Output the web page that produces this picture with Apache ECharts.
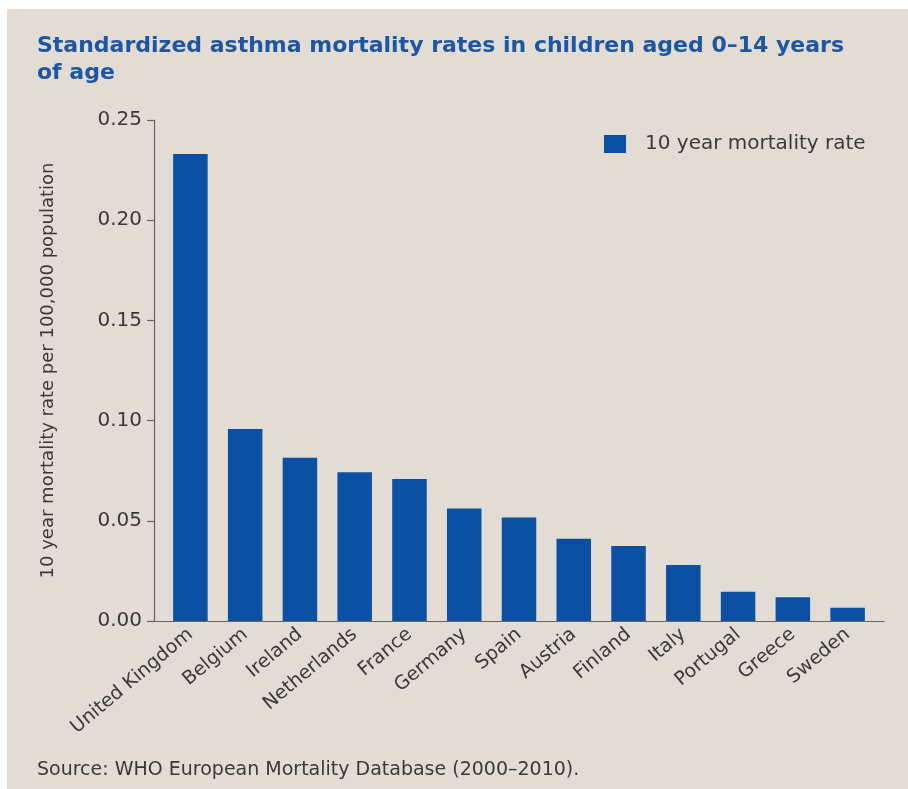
<!DOCTYPE html>
<html>
<head>
<meta charset="utf-8">
<script src="https://cdn.jsdelivr.net/npm/echarts@6/dist/echarts.min.js"></script>
<style>
  html, body { margin: 0; padding: 0; background: #fff; }
  #panel { position: absolute; left: 7px; top: 9px; width: 901px; height: 780px; background: #e2dcd4; }
  #chart { position: absolute; left: 0; top: 0; width: 908px; height: 789px; }
</style>
</head>
<body>
<div id="panel"></div>
<div id="chart"></div>
<script>
// 国家
const countries = ['United Kingdom', 'Belgium', 'Ireland', 'Netherlands', 'France', 'Germany',
  'Spain', 'Austria', 'Finland', 'Italy', 'Portugal', 'Greece', 'Sweden'];
// 10 year mortality rate per 100,000
const rates = [0.233, 0.0958, 0.0815, 0.0742, 0.0709, 0.0562, 0.0516, 0.0411, 0.0374, 0.0279, 0.0146, 0.0118, 0.0066];
const yTickLabels = ['0.00', '0.05', '0.10', '0.15', '0.20', '0.25'];

const FONT = 'DejaVu Sans';
const TEXT = '#3a3a3a';
const AXIS = '#6b6560';
const BAR = '#0b50a2';

const chart = echarts.init(document.getElementById('chart'));

const option = {
  backgroundColor: 'transparent',
  animation: false,
  textStyle: { fontFamily: FONT },
  title: {
    text: 'Standardized asthma mortality rates in children aged 0\u201314 years\nof age',
    left: 32,
    top: 28,
    textStyle: {
      fontFamily: FONT,
      fontSize: 22,
      fontWeight: 'bold',
      color: '#1d57a3',
      lineHeight: 27,
    },
  },
  legend: {
    data: ['10 year mortality rate'],
    left: 599,
    top: 129,
    itemWidth: 22,
    itemHeight: 18,
    icon: 'rect',
    textStyle: {
      fontFamily: FONT,
      fontSize: 20,
      color: TEXT,
      padding: [0, 0, 0, 14],
    },
  },
  grid: [
    { left: 163, right: 33, top: 120, bottom: 168 },
    // only for the longer x axis line
    { left: 154, right: 24, top: 120, bottom: 168 },
  ],
  xAxis: [{
    type: 'category',
    gridIndex: 0,
    data: countries,
    axisLine: { show: false },
    axisTick: { show: false },
    axisLabel: {
      rotate: 40,
      margin: 11,
      fontFamily: FONT,
      fontSize: 19,
      color: TEXT,
    },
  }, {
    type: 'value',
    gridIndex: 1,
    min: 0,
    max: 1,
    axisLine: { show: true, onZero: false, lineStyle: { color: AXIS, width: 1.2 } },
    axisTick: { show: false },
    axisLabel: { show: false },
    splitLine: { show: false },
  }],
  yAxis: [{
    type: 'value',
    gridIndex: 0,
    min: 0,
    max: 0.25,
    interval: 0.05,
    offset: 9,
    name: '10 year mortality rate per 100,000 population',
    nameLocation: 'middle',
    nameGap: 97,
    nameTextStyle: { fontFamily: FONT, fontSize: 18, color: TEXT },
    axisLine: { show: true, lineStyle: { color: AXIS, width: 1.2 } },
    axisTick: { show: true, length: 7, lineStyle: { color: AXIS, width: 1.2 } },
    axisLabel: {
      margin: 12,
      fontFamily: FONT,
      fontSize: 20,
      color: TEXT,
      formatter: (v) => yTickLabels[Math.round(v / 0.05)],
    },
    splitLine: { show: false },
  }, {
    type: 'value',
    gridIndex: 1,
    show: false,
  }],
  graphic: [{
    type: 'text',
    left: 37,
    top: 761,
    style: {
      text: 'Source: WHO European Mortality Database (2000\u20132010).',
      fontFamily: FONT,
      fontSize: 19,
      fill: TEXT,
    },
  }],
  series: [{
    name: '10 year mortality rate',
    type: 'bar',
    xAxisIndex: 0,
    yAxisIndex: 0,
    data: rates,
    barWidth: '63%',
    itemStyle: { color: BAR },
  }],
};

chart.setOption(option);
</script>
</body>
</html>
